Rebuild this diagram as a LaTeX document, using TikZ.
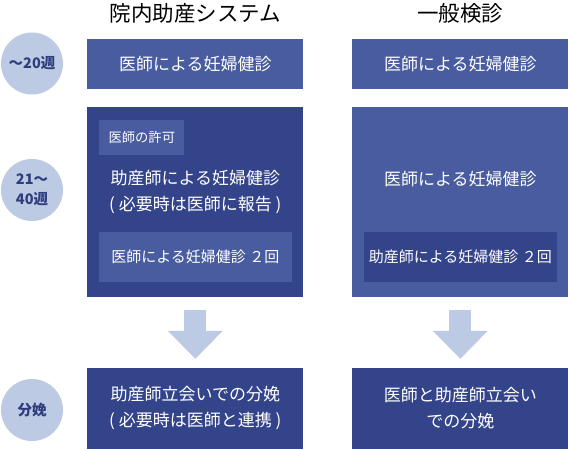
\documentclass[tikz,border=0pt]{standalone}
\usepackage{fontspec}
\setmainfont{Noto Sans CJK JP}
\usetikzlibrary{arrows.meta, positioning}
\definecolor{boxlight}{HTML}{485C9F}
\definecolor{boxdark}{HTML}{34448A}
\definecolor{pale}{HTML}{BDCAE4}
\definecolor{navy}{HTML}{2E3D7E}
\tikzset{
  lightbox/.style={
    rectangle,
    fill=boxlight,
    text=white,
    align=center,
    minimum width=216pt,
    inner sep=0pt,
    font=\fontsize{17}{26}\selectfont
  },
  darkbox/.style={
    lightbox,
    fill=boxdark
  },
  subbox/.style={
    rectangle,
    text=white,
    align=center,
    minimum width=192.5pt,
    minimum height=49.7pt,
    inner sep=0pt,
    font=\fontsize{15}{18}\selectfont
  },
  period/.style={
    circle,
    fill=pale,
    text=navy,
    align=center,
    minimum size=62pt,
    inner sep=0pt,
    font=\bfseries\fontsize{14.5}{20}\selectfont
  },
  coltitle/.style={
    inner sep=0pt,
    font=\fontsize{21.5}{24}\selectfont
  },
  flow/.style={
    draw=pale,
    line width=22pt,
    -{Triangle[width=55pt, length=28pt, line width=0pt]},
    shorten <=12.7pt,
    shorten >=9pt
  }
}
\begin{document}
\begin{tikzpicture}[x=1pt, y=-1pt]
  \useasboundingbox (0,0) rectangle (569,449);

  % column titles
  \node[coltitle] (title1) at (195.3,13) {院内助産システム};
  \node[coltitle] (title2) at (460.3,13) {一般検診};

  % periods
  \node[period] (p1) at (32,63.5) {～20週};
  \node[period] (p2) at (32,190) {21～\\40週};
  \node[period] (p3) at (32,410) {分娩};

  % in-hospital midwifery column
  \node[lightbox, minimum height=49.7pt] (a1) at (195.3,63.9) {医師による妊婦健診};
  \node[darkbox, minimum height=190.6pt] (a2) at (195.3,202) {};
  \node[subbox, fill=boxlight, minimum width=85pt, minimum height=35pt,
        font=\fontsize{13.3}{16}\selectfont, anchor=north west]
        (a2ok) at ([xshift=12pt, yshift=-13.3pt]a2.north west) {医師の許可};
  \node[lightbox, fill=none] (a2txt) at (195.3,192)
        {助産師による妊婦健診\\( 必要時は医師に報告 )};
  \node[subbox, fill=boxlight, anchor=south] (a2sub)
        at ([yshift=15.6pt]a2.south) {医師による妊婦健診 ２回};
  \node[darkbox, minimum height=81pt] (a3) at (195.3,408.5)
        {助産師立会いでの分娩\\( 必要時は医師と連携 )};

  % general checkup column
  \node[lightbox, minimum height=49.7pt] (b1) at (460.3,63.9) {医師による妊婦健診};
  \node[lightbox, minimum height=190.6pt] (b2) at (460.3,202) {};
  \node[lightbox, fill=none] (b2txt) at (460.3,179) {医師による妊婦健診};
  \node[subbox, fill=boxdark, anchor=south] (b2sub)
        at ([yshift=15.6pt]b2.south) {助産師による妊婦健診 ２回};
  \node[darkbox, minimum height=81pt] (b3) at (460.3,408.5)
        {医師と助産師立会い\\での分娩};

  \draw[flow] (a2) -- (a3);
  \draw[flow] (b2) -- (b3);
\end{tikzpicture}
\end{document}
